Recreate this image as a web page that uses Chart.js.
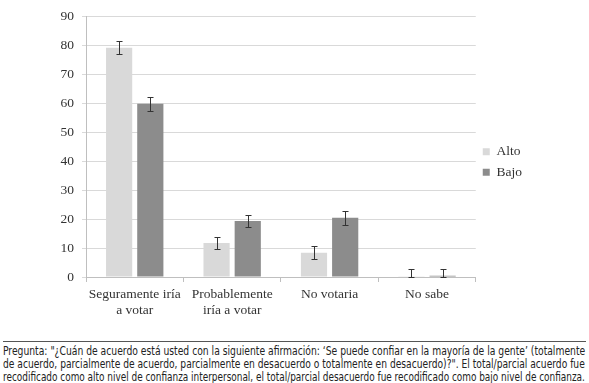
<!DOCTYPE html>
<html>
<head>
<meta charset="utf-8">
<script src="https://cdn.jsdelivr.net/npm/chart.js@4.4.1/dist/chart.umd.min.js"></script>
<style>
  html, body { margin: 0; padding: 0; background: #fff; }
  #wrap { position: relative; width: 589px; height: 320px; }
  #note {
    position: absolute; left: 3px; top: 341px; width: 583px;
    border-top: 1px solid #555;
    font-family: "DejaVu Sans", sans-serif; font-stretch: condensed;
    font-size: 11.5px; line-height: 12.8px; color: #222; padding-top: 3px;
  }
  #note div { white-space: nowrap; transform-origin: 0 0; }
</style>
</head>
<body>
<div id="wrap"><canvas id="chart" width="589" height="320"></canvas></div>
<div id="note">
  <div>Pregunta: "¿Cuán de acuerdo está usted con la siguiente afirmación: ‘Se puede confiar en la mayoría de la gente’ (totalmente</div>
  <div>de acuerdo, parcialmente de acuerdo, parcialmente en desacuerdo o totalmente en desacuerdo)?". El total/parcial acuerdo fue</div>
  <div>recodificado como alto nivel de confianza interpersonal, el total/parcial desacuerdo fue recodificado como bajo nivel de confianza.</div>
</div>
<script>
// data
const categories = [['Seguramente iría', 'a votar'], ['Probablemente', 'iría a votar'], 'No votaria', 'No sabe'];
const alto = [79.1, 11.7, 8.4, 0.3];
const bajo = [59.8, 19.3, 20.4, 0.4];
const altoErr = [2.3, 2.2, 2.2, 2.3];
const bajoErr = [2.4, 2.2, 2.3, 2.3];

// squeeze each footnote line to the full width, like the justified print
document.querySelectorAll('#note div').forEach(d => {
  const w = d.scrollWidth;
  d.style.transform = 'scaleX(' + (582 / w) + ')';
});

// simple error bar drawing, chart.js has none built in
const errorBars = {
  id: 'errorBars',
  afterDatasetsDraw(chart) {
    const ctx = chart.ctx;
    const y = chart.scales.y;
    ctx.save();
    ctx.strokeStyle = '#333';
    ctx.lineWidth = 1;
    chart.data.datasets.forEach((ds, i) => {
      const meta = chart.getDatasetMeta(i);
      meta.data.forEach((bar, j) => {
        const v = ds.data[j], e = ds.errors[j];
        const top = Math.round(y.getPixelForValue(v + e)) + 0.5;
        const bot = Math.round(y.getPixelForValue(Math.max(0, v - e))) + 0.5;
        const x = Math.round(bar.x) + 0.5;
        ctx.beginPath();
        ctx.moveTo(x, top); ctx.lineTo(x, bot);
        ctx.moveTo(x - 3, top); ctx.lineTo(x + 3, top);
        ctx.moveTo(x - 3, bot); ctx.lineTo(x + 3, bot);
        ctx.stroke();
      });
    });
    ctx.restore();
  }
};

const serif = { family: '"Liberation Serif", "Times New Roman", serif', size: 13.5 };

new Chart(document.getElementById('chart'), {
  type: 'bar',
  data: {
    labels: categories,
    datasets: [
      { label: 'Alto', data: alto, errors: altoErr, backgroundColor: '#d9d9d9' },
      { label: 'Bajo', data: bajo, errors: bajoErr, backgroundColor: '#8c8c8c' }
    ]
  },
  options: {
    responsive: false,
    animation: false,
    categoryPercentage: 0.64,
    barPercentage: 0.84,
    layout: { padding: { top: 7, right: 57, bottom: 3, left: 0 } },
    plugins: {
      legend: {
        position: 'right',
        labels: { boxWidth: 7, boxHeight: 7, color: '#333', font: serif, padding: 7 }
      },
      tooltip: { enabled: false }
    },
    scales: {
      y: {
        min: 0, max: 90,
        ticks: { stepSize: 10, color: '#333', font: serif, padding: 8 },
        grid: { color: '#d9d9d9', tickLength: 4 },
        border: { color: '#bfbfbf' },
        afterFit: s => { s.width = 86; }
      },
      x: {
        ticks: { color: '#333', font: serif, padding: 4, maxRotation: 0 },
        grid: { drawOnChartArea: false, color: '#bfbfbf', tickLength: 5 },
        border: { color: '#bfbfbf' },
        afterFit: s => { s.height = 40; }
      }
    }
  },
  plugins: [errorBars]
});
</script>
</body>
</html>
